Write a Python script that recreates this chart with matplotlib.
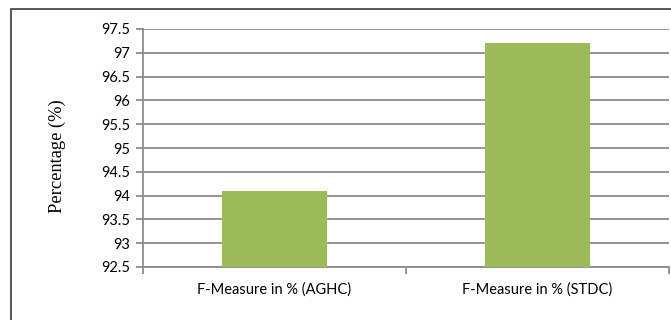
import matplotlib.pyplot as plt
from matplotlib.patches import Rectangle
from matplotlib.ticker import FixedLocator, NullFormatter

categories = ["F-Measure in % (AGHC)", "F-Measure in % (STDC)"]
values = [94.1, 97.2]
y_ticks = [92.5, 93, 93.5, 94, 94.5, 95, 95.5, 96, 96.5, 97, 97.5]

bar_color = "#9BBB59"
grid_color = "#8C8C8C"

fig = plt.figure(figsize=(6.71, 3.2), dpi=100)
ax = fig.add_axes([143 / 671, 1 - 267 / 320, 526 / 671, 238 / 320])

# outer chart frame, running off the right and bottom edges
fig.patches.append(Rectangle((10.5 / 671, -0.05), 1.0, 1 - 9 / 320 + 0.05,
                             transform=fig.transFigure, fill=False,
                             edgecolor="#3a3a3a", linewidth=1.2))

x = list(range(len(categories)))
ax.bar(x, values, width=0.4, color=bar_color, zorder=3)

ax.set_xlim(-0.5, len(categories) - 0.5)
ax.set_ylim(92.5, 97.5)
ax.set_yticks(y_ticks)
ax.set_yticklabels([f"{t:g}" for t in y_ticks], fontname="Lato", fontsize=10.5)
ax.yaxis.grid(True, color=grid_color, linewidth=1.3, zorder=0)

ax.set_xticks(x)
ax.set_xticklabels(categories, fontname="Lato", fontsize=10.5)
ax.tick_params(axis="x", length=0, pad=11)
ax.xaxis.set_minor_locator(FixedLocator([-0.5, 0.5, 1.5]))
ax.xaxis.set_minor_formatter(NullFormatter())
ax.tick_params(axis="x", which="minor", length=5, color=grid_color, width=1.3)
ax.tick_params(axis="y", length=5, color=grid_color, width=1.3, pad=4)

for side in ["top", "right"]:
    ax.spines[side].set_visible(False)
for side in ["left", "bottom"]:
    ax.spines[side].set_color(grid_color)
    ax.spines[side].set_linewidth(1.3)

ax.set_ylabel("Percentage (%)", fontname="Liberation Serif", fontsize=13.3)
ax.yaxis.set_label_coords(-0.146, 0.464)

fig.savefig("out.png", dpi=100)
